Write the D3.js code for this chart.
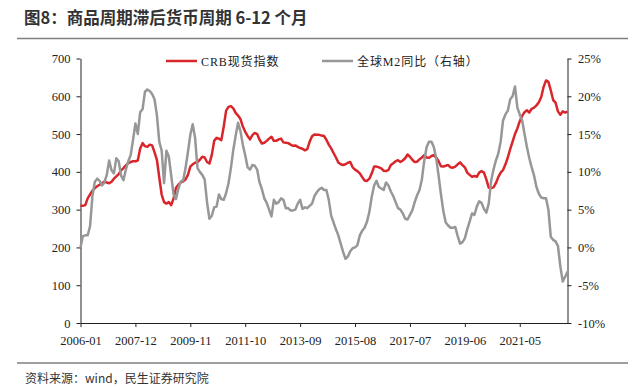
<!DOCTYPE html>
<html>
<head>
<meta charset="utf-8">
<script src="https://cdn.jsdelivr.net/npm/d3@7"></script>
<style>
  html, body { margin: 0; padding: 0; background: #fff; }
  svg { display: block; }
</style>
</head>
<body>
<svg id="chart" width="637" height="390"></svg>
<script>
// ---------- DATA ----------
const startMonth = "2006-01";
const monthCount = 205; // 2006-01 .. 2023-01
const xTickLabels = ["2006-01","2007-12","2009-11","2011-10","2013-09","2015-08","2017-07","2019-06","2021-05"];
const leftTicks = [0,100,200,300,400,500,600,700];
const rightTicks = [-10,-5,0,5,10,15,20,25];
const seriesNames = ["CRB现货指数", "全球M2同比（右轴）"];

const crb = [
  310,310,312,330,340,350,357,362,366,370,
  374,372,370,374,382,388,394,404,410,417,
  423,426,428,428,430,462,476,468,466,472,
  470,452,432,385,340,320,316,320,312,330,
  358,366,372,375,380,392,414,420,424,426,
  432,440,438,426,422,445,482,490,488,484,
  520,562,572,574,568,556,549,540,520,506,
  495,486,497,503,500,485,475,477,482,488,
  493,482,482,486,488,478,477,476,472,469,
  470,466,463,461,457,460,480,494,499,498,
  498,496,495,485,472,462,450,438,425,420,
  418,420,424,426,412,406,402,396,386,377,
  376,382,396,414,414,412,409,403,402,405,
  418,423,428,431,426,430,436,446,440,432,
  426,427,433,438,444,438,437,442,444,438,
  428,415,414,416,418,412,411,414,420,425,
  418,412,398,392,387,389,387,398,402,398,
  380,358,357,359,370,386,398,405,420,438,
  460,480,500,515,534,548,558,563,557,567,
  570,576,584,598,625,642,638,616,590,583,
  560,551,560,557,559
];

const m2 = [
  0.0,1.5,1.6,1.6,2.8,6.8,8.7,9.1,8.8,8.2,
  8.6,9.6,11.5,10.2,9.8,11.8,11.4,9.5,8.9,10.3,
  11.4,12.2,14.2,16.4,15.0,17.9,18.3,20.6,20.9,20.7,
  20.3,19.6,17.5,14.0,12.8,8.5,12.8,12.0,9.5,7.0,
  6.4,7.8,8.7,8.9,10.5,12.6,14.9,16.3,14.5,10.5,
  10.0,9.6,9.0,6.0,3.8,4.2,5.3,5.4,7.0,6.4,
  6.3,7.2,8.5,10.5,12.9,14.8,16.5,15.4,13.6,12.2,
  10.6,10.3,10.9,10.8,10.3,8.6,7.7,6.5,5.9,5.0,
  4.1,6.3,5.8,6.0,6.5,6.3,5.2,5.2,4.9,4.9,
  5.0,5.8,6.3,5.1,5.3,5.2,5.5,5.8,6.8,7.3,
  7.7,7.9,7.6,7.6,6.3,4.2,3.3,2.4,1.6,0.5,
  -0.6,-1.5,-1.2,-0.5,-0.1,0.0,0.3,1.6,2.2,2.6,
  3.4,4.7,6.7,8.2,8.8,8.0,7.8,7.6,8.6,8.2,
  7.4,6.8,6.0,5.2,5.0,4.5,3.8,3.7,4.3,4.9,
  6.0,6.9,7.6,9.0,11.5,13.3,14.0,14.0,13.3,11.8,
  9.5,7.0,4.8,3.3,2.9,2.6,2.6,2.7,1.5,0.5,
  0.7,1.2,2.4,3.4,4.5,4.3,5.4,6.1,5.9,5.1,
  4.6,5.8,8.8,10.3,11.5,12.4,14.0,16.8,17.6,18.1,
  19.6,20.0,21.3,18.5,17.6,16.8,15.0,13.3,11.8,10.6,
  9.5,8.0,7.1,6.6,6.5,6.5,5.0,1.4,1.0,0.8,
  0.2,-2.5,-4.5,-3.9,-3.2
];

// ---------- SETUP ----------
const parse = d3.timeParse("%Y-%m");
const fmt = d3.timeFormat("%Y-%m");
const t0 = parse(startMonth);
const categories = d3.range(monthCount).map(i => fmt(d3.timeMonth.offset(t0, i)));

const svg = d3.select("#chart");
const W = 637, H = 390;
svg.append("rect").attr("width", W).attr("height", H).attr("fill", "#fff");

const plot = { left: 80.5, right: 567.5, top: 58.5, bottom: 323 };
const x = d3.scaleLinear().domain([0, monthCount - 1]).range([plot.left, plot.right]);
const yL = d3.scaleLinear().domain([0, 700]).range([plot.bottom, plot.top]);
const yR = d3.scaleLinear().domain([-10, 25]).range([plot.bottom, plot.top]);

const serif = "'Liberation Serif', 'Times New Roman', 'Noto Sans CJK SC', serif";
const cjk = "'Noto Sans CJK SC', 'Noto Sans', sans-serif";

// Title
svg.append("text").attr("x", 24).attr("y", 24)
  .attr("font-family", cjk).attr("font-weight", "bold").attr("font-size", 16.5)
  .attr("fill", "#333").text("图8：商品周期滞后货币周期 6-12 个月");
svg.append("line").attr("x1", 17).attr("x2", 628).attr("y1", 38.5).attr("y2", 38.5)
  .attr("stroke", "#7f7f7f").attr("stroke-width", 1.5);

// Source
svg.append("line").attr("x1", 17).attr("x2", 628).attr("y1", 363).attr("y2", 363)
  .attr("stroke", "#7f7f7f").attr("stroke-width", 1.5);
svg.append("text").attr("x", 25).attr("y", 383)
  .attr("font-family", cjk).attr("font-size", 12)
  .attr("fill", "#333").text("资料来源：wind，民生证券研究院");

// Axes
const xTickIdx = xTickLabels.map(l => categories.indexOf(l));
const xAxis = d3.axisBottom(x).tickValues(xTickIdx).tickFormat(i => categories[i])
  .tickSizeInner(4).tickSizeOuter(0).tickPadding(9);
const gx = svg.append("g").attr("transform", `translate(0,${plot.bottom})`).call(xAxis);

const gl = svg.append("g").attr("transform", `translate(${plot.left},0)`)
  .call(d3.axisLeft(yL).tickValues(leftTicks).tickFormat(d3.format("d"))
    .tickSizeInner(4).tickSizeOuter(0).tickPadding(6));

const gr = svg.append("g").attr("transform", `translate(${plot.right},0)`)
  .call(d3.axisRight(yR).tickValues(rightTicks).tickFormat(d => d + "%")
    .tickSizeInner(4).tickSizeOuter(0).tickPadding(6.5));

[gx, gl, gr].forEach(g => {
  g.selectAll("path.domain").attr("stroke", "#222").attr("stroke-width", 1);
  g.selectAll(".tick line").attr("stroke", "#222").attr("stroke-width", 1);
  g.selectAll(".tick text").attr("font-family", serif).attr("font-size", 12.5).attr("fill", "#222");
});

// Lines
const redColor = "#d9262b", grayColor = "#979797";
const lineL = d3.line().x((d, i) => x(i)).y(d => yL(d));
const lineR = d3.line().x((d, i) => x(i)).y(d => yR(d));

svg.append("path").datum(crb).attr("d", lineL).attr("fill", "none")
  .attr("stroke", redColor).attr("stroke-width", 2.5).attr("stroke-linejoin", "round");
svg.append("path").datum(m2).attr("d", lineR).attr("fill", "none")
  .attr("stroke", grayColor).attr("stroke-width", 2.5).attr("stroke-linejoin", "round");

// Legend
const legend = [
  { name: seriesNames[0], color: redColor, x0: 166 },
  { name: seriesNames[1], color: grayColor, x0: 322 }
];
legend.forEach(l => {
  svg.append("line").attr("x1", l.x0).attr("x2", l.x0 + 31).attr("y1", 61).attr("y2", 61)
    .attr("stroke", l.color).attr("stroke-width", 2.5);
  svg.append("text").attr("x", l.x0 + 35).attr("y", 65.5)
    .attr("font-family", serif).attr("font-size", 12).attr("letter-spacing", 0.9)
    .attr("fill", "#222").text(l.name);
});
</script>
</body>
</html>
